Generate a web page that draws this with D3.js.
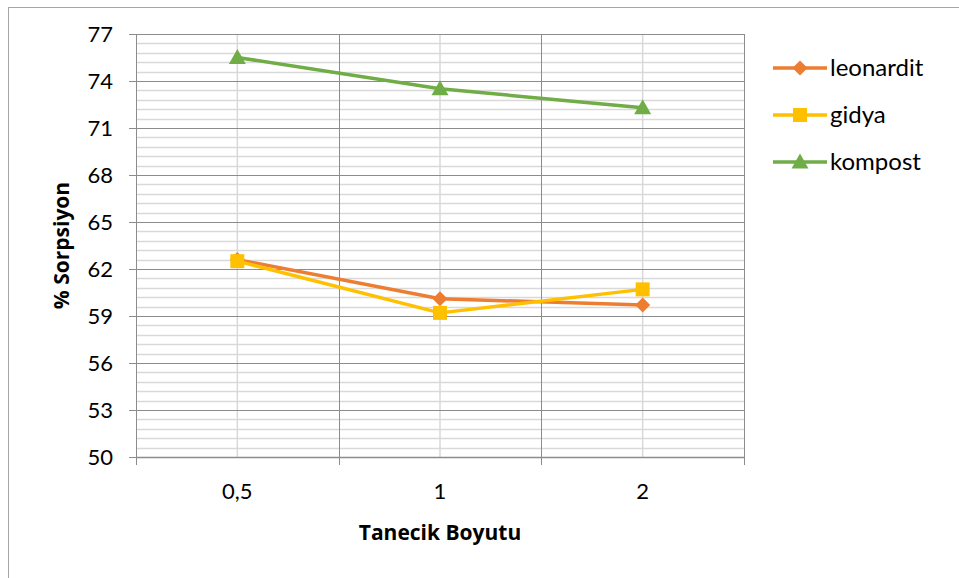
<!DOCTYPE html>
<html lang="tr">
<head>
  <meta charset="UTF-8">
  <title>Sorpsiyon</title>
  <style>
    body { margin: 0; background: #fff; font-family: Lato, "Open Sans", sans-serif; }
  </style>
  <script src="https://d3js.org/d3.v7.min.js"></script>
</head>
<body>
  <div id="chart"></div>
  <script>
    // data
    const categories = ["0,5", "1", "2"];
    const leonardit = [62.6, 60.1, 59.7];
    const gidya = [62.5, 59.2, 60.7];
    const kompost = [75.5, 73.5, 72.3];
    const yTicks = [50, 53, 56, 59, 62, 65, 68, 71, 74, 77];

    const series = [
      { name: "leonardit", values: leonardit, color: "#ED7D31", marker: "diamond" },
      { name: "gidya", values: gidya, color: "#FFC000", marker: "square" },
      { name: "kompost", values: kompost, color: "#70AD47", marker: "triangle" }
    ];

    const W = 959, H = 578;
    const margin = { top: 34, left: 136, right: 215, bottom: 121 };
    const width = W - margin.left - margin.right;
    const height = H - margin.top - margin.bottom;

    const svg = d3.select("#chart").append("svg")
      .attr("width", W).attr("height", H);

    // chart frame
    svg.append("rect")
      .attr("x", 8.5).attr("y", 7.5)
      .attr("width", W + 10).attr("height", H + 10)
      .attr("fill", "none").attr("stroke", "#a6a6a6");

    const g = svg.append("g").attr("transform", `translate(${margin.left},${margin.top})`);

    const x = d3.scaleBand().domain(categories).range([0, width]);
    const y = d3.scaleLinear().domain([50, 77]).range([height, 0]);

    // minor horizontal grid
    const minor = d3.range(50, 77.001, 0.6).filter(v => !yTicks.some(t => Math.abs(t - v) < 1e-6));
    g.selectAll(".hminor").data(minor).enter().append("line")
      .attr("x1", 0).attr("x2", width)
      .attr("y1", d => Math.round(y(d)) + 0.5).attr("y2", d => Math.round(y(d)) + 0.5)
      .attr("stroke", "#d9d9d9").attr("stroke-width", 1.5);

    // minor vertical grid at category centres
    g.selectAll(".vminor").data(categories).enter().append("line")
      .attr("x1", d => x(d) + x.bandwidth() / 2).attr("x2", d => x(d) + x.bandwidth() / 2)
      .attr("y1", 0).attr("y2", height)
      .attr("stroke", "#d9d9d9").attr("stroke-width", 1.5);

    // major horizontal grid
    g.selectAll(".hmajor").data(yTicks).enter().append("line")
      .attr("x1", 0).attr("x2", width)
      .attr("y1", d => Math.round(y(d)) + 0.5).attr("y2", d => Math.round(y(d)) + 0.5)
      .attr("stroke", "#8c8c8c").attr("stroke-width", 1);

    // major vertical grid at category boundaries
    const bounds = categories.map(c => x(c)).concat([width]);
    g.selectAll(".vmajor").data(bounds).enter().append("line")
      .attr("x1", d => Math.round(d) + 0.5).attr("x2", d => Math.round(d) + 0.5)
      .attr("y1", 0).attr("y2", height + 8)
      .attr("stroke", "#8c8c8c").attr("stroke-width", 1);

    // x axis line
    g.append("line")
      .attr("x1", 0).attr("x2", width)
      .attr("y1", height + 0.5).attr("y2", height + 0.5)
      .attr("stroke", "#8c8c8c").attr("stroke-width", 1.5);

    // y axis labels and ticks
    const yAxis = g.append("g")
      .call(d3.axisLeft(y).tickValues(yTicks).tickSize(7).tickPadding(16));
    yAxis.select(".domain").remove();
    yAxis.selectAll(".tick line").attr("stroke", "#8c8c8c");
    yAxis.selectAll("text").attr("font-size", 22).attr("fill", "#000")
      .attr("font-family", "Lato, sans-serif");

    // x labels
    g.selectAll(".xlab").data(categories).enter().append("text")
      .attr("x", d => x(d) + x.bandwidth() / 2)
      .attr("y", height + 42)
      .attr("text-anchor", "middle")
      .attr("font-size", 22)
      .text(d => d);

    // axis titles
    g.append("text")
      .attr("x", width / 2).attr("y", height + 83)
      .attr("text-anchor", "middle")
      .attr("font-size", 21).attr("font-weight", "bold")
      .attr("font-family", "'Open Sans', sans-serif")
      .text("Tanecik Boyutu");

    g.append("text")
      .attr("transform", `translate(${-67},${height / 2}) rotate(-90)`)
      .attr("text-anchor", "middle")
      .attr("font-size", 21).attr("font-weight", "bold")
      .attr("font-family", "'Open Sans', sans-serif")
      .text("% Sorpsiyon");

    function drawMarker(sel, type, color) {
      if (type === "diamond") {
        sel.append("path").attr("d", "M0,-7.5L7.5,0L0,7.5L-7.5,0Z").attr("fill", color);
      } else if (type === "square") {
        sel.append("rect").attr("x", -7).attr("y", -7).attr("width", 14).attr("height", 14).attr("fill", color);
      } else {
        sel.append("path").attr("d", "M0,-8.5L8.5,6.5L-8.5,6.5Z").attr("fill", color);
      }
    }

    const line = d3.line()
      .x((d, i) => x(categories[i]) + x.bandwidth() / 2)
      .y(d => y(d));

    series.forEach(s => {
      g.append("path")
        .datum(s.values)
        .attr("fill", "none")
        .attr("stroke", s.color)
        .attr("stroke-width", 3.5)
        .attr("stroke-linejoin", "round")
        .attr("d", line);
      s.values.forEach((v, i) => {
        const m = g.append("g")
          .attr("transform", `translate(${x(categories[i]) + x.bandwidth() / 2},${y(v)})`);
        drawMarker(m, s.marker, s.color);
      });
    });

    // legend
    const legend = svg.append("g").attr("transform", "translate(773,68)");
    series.forEach((s, i) => {
      const row = legend.append("g").attr("transform", `translate(0,${i * 47})`);
      row.append("line").attr("x1", 0).attr("x2", 54).attr("y1", 0).attr("y2", 0)
        .attr("stroke", s.color).attr("stroke-width", 3.5);
      const m = row.append("g").attr("transform", "translate(27,0)");
      drawMarker(m, s.marker, s.color);
      row.append("text").attr("x", 57).attr("y", 0).attr("dy", "0.35em")
        .attr("font-size", 24).text(s.name);
    });
  </script>
</body>
</html>
